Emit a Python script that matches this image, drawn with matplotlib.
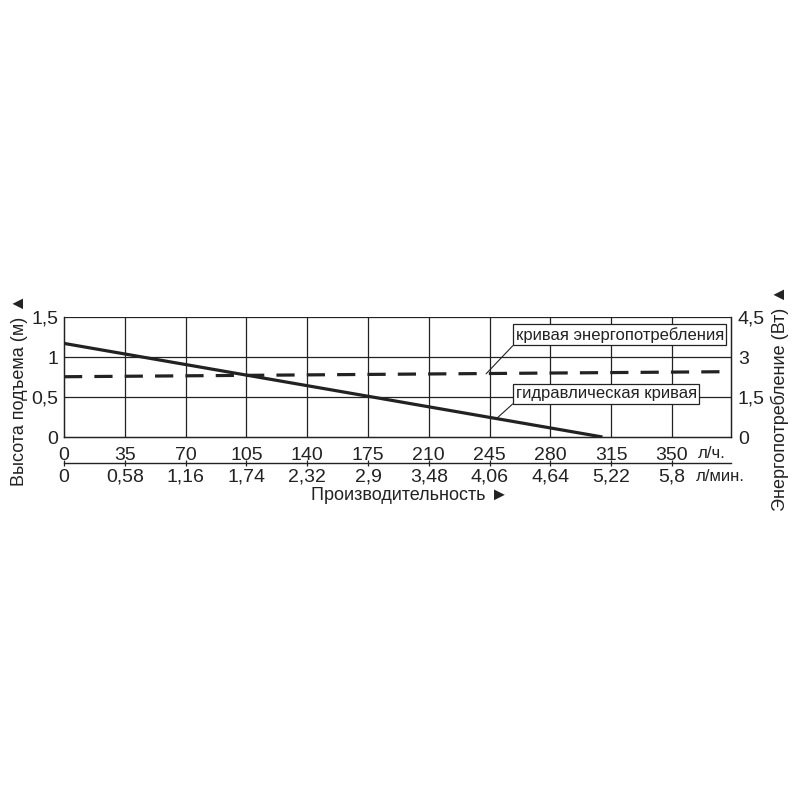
import matplotlib
matplotlib.use('Agg')
import matplotlib.pyplot as plt

plt.rcParams['font.family'] = ['Liberation Sans', 'DejaVu Sans']

# --- data ---
flow_ticks = [0, 35, 70, 105, 140, 175, 210, 245, 280, 315, 350]
flow_lph_labels = ['0', '35', '70', '105', '140', '175', '210', '245', '280', '315', '350']
flow_lpm_labels = ['0', '0,58', '1,16', '1,74', '2,32', '2,9', '3,48', '4,06', '4,64', '5,22', '5,8']
head_ticks = [0, 0.5, 1, 1.5]
head_labels = ['0', '0,5', '1', '1,5']
power_ticks = [0, 1.5, 3, 4.5]
power_labels = ['0', '1,5', '3', '4,5']

# hydraulic curve (head, m)
hyd_flow = [0, 310]
hyd_head = [1.17, 0]
# power consumption curve (W)
pwr_flow = [0, 384]
pwr_watt = [2.26, 2.45]

ink = '#222222'
fs = 14

fig = plt.figure(figsize=(8, 8), dpi=100)
ax = fig.add_axes([64 / 800, 1 - 437 / 800, 667 / 800, 120 / 800])
ax2 = ax.twinx()

ax.set_xlim(0, 384)
ax.set_ylim(0, 1.5)
ax2.set_ylim(0, 4.5)

# grid
for x in flow_ticks[1:]:
    ax.axvline(x, color=ink, lw=0.9, zorder=1)
for y in head_ticks[1:]:
    ax.axhline(y, color=ink, lw=0.9, zorder=1)

ax.plot(hyd_flow, hyd_head, color=ink, lw=2.3, solid_capstyle='butt', zorder=3)
ax2.plot(pwr_flow, pwr_watt, color=ink, lw=2.3, dashes=(5.7, 3.8), zorder=3)

for a in (ax, ax2):
    for s in a.spines.values():
        s.set_color(ink)
        s.set_linewidth(0.9)
    a.spines['top'].set_visible(False)

ax.set_xticks(flow_ticks, flow_lph_labels)
ax.set_yticks(head_ticks, head_labels)
ax2.set_yticks(power_ticks, power_labels)
ax.tick_params(axis='x', length=0, pad=7, labelsize=fs, colors=ink)
ax.tick_params(axis='y', length=0, pad=4, labelsize=fs, colors=ink)
ax2.tick_params(axis='y', length=0, pad=5, labelsize=fs, colors=ink)

# second flow scale (l/min)
sec = ax.secondary_xaxis(-0.217, functions=(lambda v: v, lambda v: v))
sec.set_xticks(flow_ticks, flow_lpm_labels)
sec.tick_params(direction='inout', length=4, width=0.9, pad=2, labelsize=fs, colors=ink)
sec.spines['bottom'].set_color(ink)
sec.spines['bottom'].set_linewidth(1.0)

fig.text(712 / 800, 1 - 454 / 800, 'л/ч.', fontsize=12, color=ink, ha='center', va='center')
fig.text(720 / 800, 1 - 477 / 800, 'л/мин.', fontsize=12, color=ink, ha='center', va='center')
fig.text(410 / 800, 1 - 496 / 800, 'Производительность ►', fontsize=13, color=ink,
         ha='center', va='center')
fig.text(20 / 800, 1 - 390 / 800, 'Высота подъема (м) ▲', fontsize=13, color=ink,
         rotation=90, ha='center', va='center')
fig.text(780 / 800, 1 - 398 / 800, 'Энергопотребление (Вт) ▲', fontsize=13, color=ink,
         rotation=90, ha='center', va='center')

# callouts
box = dict(boxstyle='square,pad=0.15', fc='white', ec=ink, lw=0.9)
ax2.annotate('кривая энергопотребления', xy=(243, 2.37), xytext=(260, 3.83),
             fontsize=12, color=ink, ha='left', va='center', bbox=box, zorder=5,
             arrowprops=dict(arrowstyle='-', color=ink, lw=0.8, relpos=(0, 0),
                             shrinkA=0, shrinkB=0))
ax.annotate('гидравлическая кривая', xy=(249, 1.17 * (1 - 249 / 310)), xytext=(260, 0.54),
            fontsize=12, color=ink, ha='left', va='center', bbox=box, zorder=5,
            arrowprops=dict(arrowstyle='-', color=ink, lw=0.8, relpos=(0, 0),
                            shrinkA=0, shrinkB=0))

fig.savefig('out.png', dpi=100, facecolor='white')
